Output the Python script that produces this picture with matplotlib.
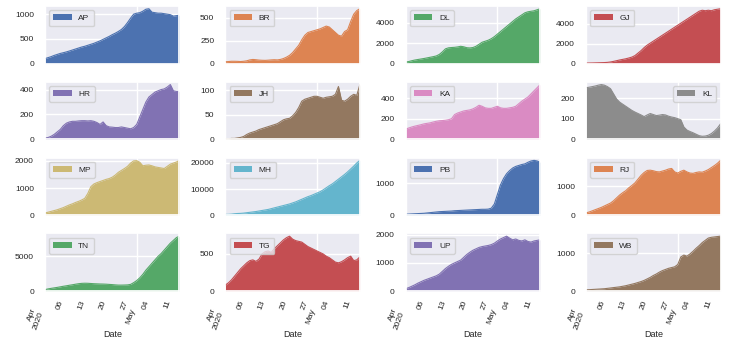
import numpy as np
import matplotlib
matplotlib.use("Agg")
import matplotlib.pyplot as plt
import matplotlib.dates as mdates
import matplotlib.ticker as mticker
import seaborn as sns

# daily active cases per state, 1 Apr - 15 May 2020
dates = np.arange("2020-04-01", "2020-05-16", dtype="datetime64[D]")
states = ["AP", "BR", "DL", "GJ", "HR", "JH", "KA", "KL",
          "MP", "MH", "PB", "RJ", "TN", "TG", "UP", "WB"]

AP = [100, 120, 140, 165, 185, 205, 220, 236, 255, 275, 295, 315, 335, 350, 370,
      390, 410, 435, 460, 490, 520, 550, 585, 615, 650, 690, 750, 830, 920, 1000,
      1020, 1030, 1060, 1100, 1110, 1040, 1030, 1020, 1020, 1010, 1000, 990, 960, 970, 980]
BR = [20, 22, 25, 25, 24, 22, 25, 30, 40, 45, 42, 38, 36, 35, 37,
      40, 42, 40, 45, 55, 70, 90, 120, 160, 200, 260, 310, 340, 350, 360,
      370, 380, 395, 410, 400, 370, 340, 310, 300, 350, 370, 460, 540, 580, 600]
DL = [150, 200, 280, 350, 400, 450, 500, 560, 620, 680, 750, 900, 1150, 1450, 1550,
      1580, 1600, 1640, 1700, 1650, 1560, 1540, 1580, 1700, 1900, 2100, 2200, 2300, 2450, 2650,
      2900, 3150, 3400, 3650, 3900, 4150, 4400, 4600, 4800, 5000, 5100, 5150, 5200, 5300, 5400]
GJ = [50, 55, 60, 70, 80, 90, 100, 120, 160, 220, 290, 360, 420, 480, 560,
      650, 800, 1050, 1300, 1600, 1850, 2050, 2250, 2450, 2650, 2850, 3050, 3250, 3450, 3650,
      3850, 4050, 4250, 4450, 4650, 4850, 5050, 5250, 5350, 5300, 5350, 5300, 5400, 5450, 5500]
HR = [10, 15, 25, 40, 60, 80, 110, 130, 140, 145, 145, 148, 150, 150, 148,
      150, 145, 135, 120, 140, 110, 100, 98, 95, 95, 100, 95, 90, 85, 95,
      120, 180, 240, 300, 340, 360, 380, 390, 400, 405, 420, 440, 390, 385, 385]
JH = [1, 1, 2, 2, 3, 4, 6, 10, 13, 15, 17, 20, 22, 24, 26,
      28, 30, 32, 36, 40, 42, 43, 48, 55, 65, 78, 82, 84, 86, 88,
      88, 86, 84, 86, 87, 88, 92, 108, 80, 78, 82, 88, 92, 90, 112]
KA = [100, 110, 120, 128, 135, 142, 150, 155, 160, 168, 175, 180, 182, 185, 190,
      200, 240, 255, 265, 275, 280, 285, 295, 310, 330, 320, 305, 300, 300, 310,
      320, 305, 300, 300, 305, 310, 320, 345, 370, 390, 410, 440, 470, 500, 530]
KL = [250, 252, 255, 258, 262, 265, 262, 255, 245, 220, 195, 180, 170, 160, 150,
      140, 132, 125, 118, 110, 118, 125, 120, 115, 117, 120, 118, 112, 108, 105,
      100, 95, 60, 45, 38, 32, 25, 18, 15, 16, 20, 28, 40, 55, 75]
MP = [80, 110, 140, 170, 200, 240, 280, 330, 380, 420, 470, 510, 560, 620, 800,
      1050, 1150, 1200, 1240, 1280, 1320, 1350, 1400, 1480, 1580, 1650, 1720, 1800, 1920, 2000,
      2010, 1950, 1820, 1840, 1850, 1820, 1780, 1760, 1740, 1720, 1800, 1880, 1920, 1960, 2020]
MH = [300, 320, 400, 550, 650, 700, 800, 950, 1100, 1250, 1400, 1600, 1800, 2000, 2200,
      2500, 2800, 3100, 3400, 3700, 4000, 4300, 4700, 5100, 5600, 6100, 6600, 7100, 7500, 8000,
      8500, 9000, 9700, 10500, 11300, 12000, 12900, 13800, 14700, 15600, 16600, 17700, 18800, 20000, 21000]
PB = [30, 35, 40, 45, 50, 55, 60, 70, 80, 90, 100, 110, 115, 120, 125,
      130, 140, 145, 150, 155, 160, 165, 170, 175, 180, 185, 185, 190, 220, 350,
      650, 950, 1150, 1300, 1400, 1480, 1530, 1560, 1590, 1610, 1660, 1700, 1720, 1700, 1660]
RJ = [80, 110, 150, 190, 230, 270, 320, 370, 420, 500, 600, 700, 780, 850, 950,
      1030, 1120, 1250, 1380, 1480, 1550, 1560, 1540, 1510, 1500, 1530, 1560, 1600, 1620, 1500,
      1460, 1520, 1560, 1500, 1460, 1450, 1480, 1500, 1490, 1530, 1580, 1650, 1720, 1800, 1900]
TN = [200, 300, 380, 450, 520, 600, 680, 750, 830, 900, 980, 1050, 1100, 1120, 1110,
      1080, 1050, 1030, 1010, 1000, 980, 950, 920, 880, 850, 850, 860, 880, 950, 1200,
      1500, 1900, 2400, 3000, 3500, 4000, 4500, 5000, 5400, 5900, 6400, 6900, 7300, 7700, 7900]
TG = [80, 110, 150, 200, 250, 300, 340, 380, 410, 420, 400, 430, 500, 530, 540,
      520, 570, 610, 650, 690, 720, 740, 700, 680, 670, 660, 630, 600, 580, 560,
      540, 520, 500, 470, 450, 420, 390, 380, 395, 420, 450, 470, 410, 420, 460]
UP = [80, 120, 170, 220, 280, 330, 380, 420, 460, 500, 540, 600, 700, 800, 880,
      950, 1000, 1050, 1100, 1200, 1300, 1380, 1450, 1500, 1550, 1580, 1600, 1620, 1650, 1700,
      1780, 1850, 1900, 1950, 1880, 1820, 1850, 1800, 1780, 1820, 1760, 1740, 1780, 1800, 1820]
WB = [30, 35, 40, 45, 50, 55, 60, 70, 80, 90, 100, 110, 125, 140, 160,
      180, 200, 225, 250, 280, 320, 360, 410, 450, 500, 540, 570, 600, 620, 640,
      700, 900, 950, 920, 980, 1050, 1130, 1200, 1280, 1340, 1400, 1420, 1430, 1440, 1450]

series = [AP, BR, DL, GJ, HR, JH, KA, KL, MP, MH, PB, RJ, TN, TG, UP, WB]

sns.set_theme(style="darkgrid")
plt.rcParams["font.family"] = ["Liberation Sans", "DejaVu Sans"]
palette = sns.color_palette("deep", 10)

fig, axes = plt.subplots(4, 4, figsize=(7.33, 3.43), dpi=100, sharex=True)
fig.subplots_adjust(left=0.0614, right=0.983, bottom=0.1516, top=0.9825,
                    wspace=0.341, hspace=0.317)


def major_fmt(x, pos):
    d = mdates.num2date(x)
    if pos == 0:
        return d.strftime("\n\n%b\n%Y")
    return d.strftime("\n\n%b")


for i, (ax, name, vals) in enumerate(zip(axes.flat, states, series)):
    color = palette[i % 10]
    ax.fill_between(dates, 0, vals, color=color, linewidth=0, label=name)
    ax.plot(dates, vals, color=color, linewidth=0.8)
    ax.set_xlim(dates[0], dates[-1])
    ax.set_ylim(bottom=0)
    ax.tick_params(labelsize=6, pad=2)
    ax.legend(loc="upper right" if name == "KL" else "upper left",
              fontsize=6, handlelength=2.2, borderpad=0.5)

    ax.xaxis.set_major_locator(mdates.MonthLocator())
    ax.xaxis.set_major_formatter(mticker.FuncFormatter(major_fmt))
    ax.xaxis.set_minor_locator(mdates.WeekdayLocator(byweekday=mdates.MO))
    ax.xaxis.set_minor_formatter(mdates.DateFormatter("%d"))
    ax.tick_params(axis="x", which="both", labelsize=6, pad=2)
    for lbl in ax.get_xticklabels(which="minor"):
        lbl.set_rotation(70)
    for lbl in ax.get_xticklabels(which="major"):
        lbl.set_rotation(70)
        lbl.set_horizontalalignment("right")

for ax in axes[-1]:
    ax.set_xlabel("Date", fontsize=6.5, labelpad=0)

fig.savefig("out.png", dpi=100)
